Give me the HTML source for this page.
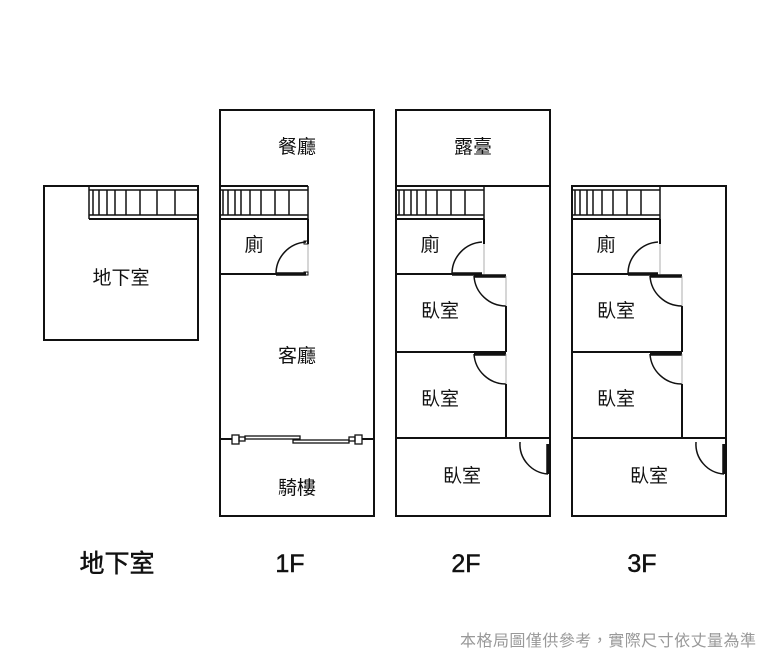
<!DOCTYPE html>
<html><head><meta charset="utf-8"><style>
html,body{margin:0;padding:0;background:#fff;}
svg{display:block;}
text{font-family:"Liberation Sans","Noto Sans CJK TC",sans-serif;fill:#111;}
</style></head><body>
<svg width="770" height="660" viewBox="0 0 770 660" xmlns="http://www.w3.org/2000/svg">
<defs>
<g id="st88" stroke="#111" fill="none" stroke-width="1.5">
  <line x1="0" y1="0" x2="88" y2="0" stroke-width="2"/>
  <line x1="0" y1="4" x2="88" y2="4"/>
  <line x1="0" y1="29" x2="88" y2="29"/>
  <line x1="0" y1="33" x2="88" y2="33" stroke-width="2"/>
  <line x1="88" y1="0" x2="88" y2="33"/>
  <path d="M3 4V29M8 4V29M15 4V29M21 4V29M30 4V29M41 4V29M55 4V29M69 4V29"/>
</g>
</defs>
<rect width="770" height="660" fill="#fff"/>
<g stroke="#111" fill="none" stroke-width="2">
<rect x="44" y="186" width="154" height="154"/>
<g stroke-width="1.5">
<line x1="89" y1="186" x2="198" y2="186" stroke-width="2"/>
<line x1="89" y1="190" x2="198" y2="190"/>
<line x1="89" y1="215" x2="198" y2="215"/>
<line x1="89" y1="219" x2="198" y2="219" stroke-width="2"/>
<line x1="89" y1="186" x2="89" y2="219"/>
<path d="M93 190V215M99 190V215M107 190V215M115 190V215M126 190V215M140 190V215M157 190V215M175 190V215"/>
</g>
<rect x="220" y="110" width="154" height="406"/>
<use href="#st88" x="220" y="186"/>
<line x1="220" y1="274" x2="276" y2="274"/>
<line x1="308" y1="219" x2="308" y2="244"/>
<path d="M276 274 A32 32 0 0 1 306 242" stroke-width="1.5"/>
<line x1="276" y1="274" x2="306" y2="274" stroke-width="3.5"/>
<line x1="308" y1="244" x2="308" y2="274" stroke-width="0.8" stroke="#999"/>
<rect x="304" y="241" width="4" height="3" stroke-width="1"/>
<rect x="304" y="272" width="4" height="3" stroke-width="1"/>
<line x1="220" y1="439" x2="232" y2="439"/>
<line x1="362" y1="439" x2="374" y2="439"/>
<g stroke-width="1.3">
<rect x="232" y="435" width="7" height="9"/>
<rect x="239" y="437" width="6" height="4"/>
<rect x="245" y="436" width="55" height="3"/>
<rect x="293" y="440" width="56" height="3"/>
<rect x="349" y="437" width="6" height="4"/>
<rect x="355" y="435" width="7" height="9"/>
</g>
<rect x="396" y="110" width="154" height="406"/>
<use href="#st88" x="396" y="186"/>
<line x1="484" y1="186" x2="550" y2="186"/>
<line x1="396" y1="274" x2="452" y2="274"/>
<line x1="484" y1="219" x2="484" y2="244"/>
<path d="M452 274 A32 32 0 0 1 482 242" stroke-width="1.5"/>
<line x1="452" y1="274" x2="482" y2="274" stroke-width="3.5"/>
<line x1="484" y1="244" x2="484" y2="274" stroke-width="0.8" stroke="#999"/>
<line x1="396" y1="352" x2="506" y2="352"/>
<line x1="396" y1="438" x2="550" y2="438"/>
<line x1="506" y1="306" x2="506" y2="352"/>
<line x1="506" y1="384" x2="506" y2="438"/>
<line x1="474" y1="276" x2="506" y2="276" stroke-width="3.5"/>
<path d="M474 276 A32 32 0 0 0 506 306" stroke-width="1.5"/>
<line x1="474" y1="354" x2="506" y2="354" stroke-width="3.5"/>
<path d="M474 354 A32 32 0 0 0 506 384" stroke-width="1.5"/>
<line x1="506" y1="276" x2="506" y2="306" stroke-width="0.8" stroke="#999"/>
<line x1="506" y1="354" x2="506" y2="384" stroke-width="0.8" stroke="#999"/>
<line x1="548" y1="444" x2="548" y2="474" stroke-width="3.5"/>
<path d="M520 442 A30 30 0 0 0 548 474" stroke-width="1.5"/>
<rect x="572" y="186" width="154" height="330"/>
<use href="#st88" x="572" y="186"/>
<line x1="572" y1="274" x2="628" y2="274"/>
<line x1="660" y1="219" x2="660" y2="244"/>
<path d="M628 274 A32 32 0 0 1 658 242" stroke-width="1.5"/>
<line x1="628" y1="274" x2="658" y2="274" stroke-width="3.5"/>
<line x1="660" y1="244" x2="660" y2="274" stroke-width="0.8" stroke="#999"/>
<line x1="572" y1="352" x2="682" y2="352"/>
<line x1="572" y1="438" x2="726" y2="438"/>
<line x1="682" y1="306" x2="682" y2="352"/>
<line x1="682" y1="384" x2="682" y2="438"/>
<line x1="650" y1="276" x2="682" y2="276" stroke-width="3.5"/>
<path d="M650 276 A32 32 0 0 0 682 306" stroke-width="1.5"/>
<line x1="650" y1="354" x2="682" y2="354" stroke-width="3.5"/>
<path d="M650 354 A32 32 0 0 0 682 384" stroke-width="1.5"/>
<line x1="682" y1="276" x2="682" y2="306" stroke-width="0.8" stroke="#999"/>
<line x1="682" y1="354" x2="682" y2="384" stroke-width="0.8" stroke="#999"/>
<line x1="724" y1="444" x2="724" y2="474" stroke-width="3.5"/>
<path d="M696 442 A30 30 0 0 0 724 474" stroke-width="1.5"/>
</g>
<g font-size="19" text-anchor="middle">
<text x="121" y="284">地下室</text>
<text x="297" y="153">餐廳</text>
<text x="254" y="251">廁</text>
<text x="297" y="362">客廳</text>
<text x="297" y="494">騎樓</text>
<text x="473" y="153">露臺</text>
<text x="430" y="251">廁</text>
<text x="440" y="317">臥室</text>
<text x="440" y="405">臥室</text>
<text x="462" y="482">臥室</text>
<text x="606" y="251">廁</text>
<text x="616" y="317">臥室</text>
<text x="616" y="405">臥室</text>
<text x="649" y="482">臥室</text>
</g>
<g font-size="25" text-anchor="middle" stroke="#111" stroke-width="0.5">
<text x="117" y="572">地下室</text>
<text x="290" y="572">1F</text>
<text x="466" y="572">2F</text>
<text x="642" y="572">3F</text>
</g>
<text x="608" y="646" font-size="16" text-anchor="middle" style="fill:#999" textLength="296">本格局圖僅供參考，實際尺寸依丈量為準</text>
</svg>
</body></html>
